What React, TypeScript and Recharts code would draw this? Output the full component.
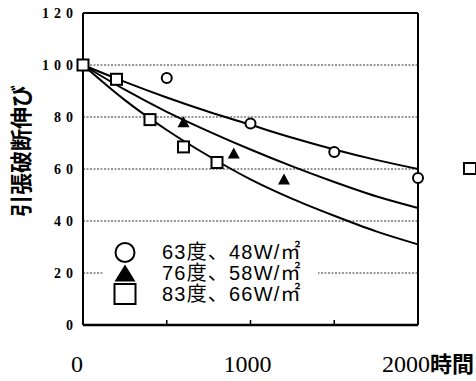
import {
  ComposedChart,
  Line,
  Scatter,
  XAxis,
  YAxis,
  CartesianGrid,
  ReferenceLine,
} from 'recharts';

// fitted curves, every 250 h
const curveHours = [0, 250, 500, 750, 1000, 1250, 1500, 1750, 2000];
const fit63 = [100, 93.5, 87.5, 82, 77, 72, 67.5, 63.5, 60];
const fit76 = [100, 90.5, 82, 74.5, 67.5, 61, 55, 49.5, 45];
const fit83 = [100, 86.5, 75, 65, 56, 48.5, 42, 36, 31];

// measured points
const hours63 = [0, 500, 1000, 1500, 2000];
const elong63 = [100, 95, 77.5, 66.5, 56.5];
const hours76 = [0, 600, 900, 1200];
const elong76 = [100, 78, 66, 56];
const hours83 = [0, 200, 400, 600, 800];
const elong83 = [100, 94.5, 79, 68.5, 62.5];

const xTicks = [0, 500, 1000, 1500, 2000];
const xTickLabels = ['0', '', '1000', '', '2000'];
const yTicks = [0, 20, 40, 60, 80, 100, 120];

const yTitle = '引張破断伸び';
const xUnit = '時間';
const legendLabels = ['63度、48W/㎡', '76度、58W/㎡', '83度、66W/㎡'];

const toRows = (xs: number[], ys: number[]) => xs.map((t, i) => ({ t, v: ys[i] }));

const W = 476;
const H = 381;
const SERIF = 'Liberation Serif, DejaVu Serif, serif';
const CJK = 'Noto Sans CJK JP, sans-serif';

const CircleDot = (p: any) => (
  <circle cx={p.cx} cy={p.cy} r={5} fill="#fff" stroke="#000" strokeWidth={2} />
);
const TriangleDot = (p: any) => (
  <polygon points={`${p.cx},${p.cy - 6} ${p.cx - 6},${p.cy + 5} ${p.cx + 6},${p.cy + 5}`} fill="#000" />
);
const SquareDot = (p: any) => (
  <rect x={p.cx - 5.5} y={p.cy - 5.5} width={11} height={11} fill="#fff" stroke="#000" strokeWidth={2} />
);

function YTick({ x, y, payload }: any) {
  return (
    <text
      x={x - 5}
      y={y}
      dy={5}
      textAnchor="end"
      style={{ fontFamily: SERIF, fontWeight: 'bold', fontSize: 14, letterSpacing: 5 }}
      fill="#000"
    >
      {payload.value}
    </text>
  );
}

function XTick({ x, y, payload }: any) {
  const v = payload.value;
  const label = xTickLabels[xTicks.indexOf(v)];
  const font = { fontFamily: SERIF, fontSize: 24 };
  return (
    <g>
      {v > 0 && v < 2000 && <line x1={x} x2={x} y1={y} y2={y - 5} stroke="#000" strokeWidth={1.5} />}
      {v === 2000 ? (
        <text x={x - 36} y={y + 47} textAnchor="start" fill="#000" style={font}>
          {label}
          <tspan style={{ fontFamily: CJK, fontSize: 22, fontWeight: 'bold' }}>{xUnit}</tspan>
        </text>
      ) : label ? (
        <text x={x + (v === 0 ? -6 : -3)} y={y + 47} textAnchor="middle" fill="#000" style={font}>
          {label}
        </text>
      ) : null}
    </g>
  );
}

function YTitle({ viewBox }: any) {
  const cx = viewBox.x + 19;
  const cy = viewBox.y + viewBox.height / 2 - 18;
  return (
    <text
      x={cx}
      y={cy}
      transform={`rotate(-90 ${cx} ${cy})`}
      textAnchor="middle"
      dominantBaseline="central"
      style={{ fontFamily: CJK, fontWeight: 'bold', fontSize: 22 }}
      fill="#000"
    >
      {yTitle}
    </text>
  );
}

function LegendIcon({ kind }: { kind: number }) {
  return (
    <svg width={42} height={21} style={{ position: 'absolute', left: 0, top: 0, overflow: 'visible' }}>
      {kind === 0 && <circle cx={21} cy={10.5} r={9.5} fill="#fff" stroke="#000" strokeWidth={2} />}
      {kind === 1 && <polygon points="21,1.5 10.5,18.5 31.5,18.5" fill="#000" />}
      {kind === 2 && <rect x={10.5} y={0} width={21} height={20} fill="#fff" stroke="#000" strokeWidth={2} />}
    </svg>
  );
}

export default function App() {
  return (
    <div style={{ position: 'absolute', left: 0, top: 0, width: W, height: H, background: '#fff', overflow: 'hidden' }}>
      <ComposedChart width={W} height={H} margin={{ top: 13, right: 58, left: 0, bottom: 0 }}>
        <CartesianGrid vertical={false} strokeDasharray="2 1.5" stroke="#333" strokeWidth={1} />
        <XAxis
          type="number"
          dataKey="t"
          domain={[0, 2000]}
          ticks={xTicks}
          interval={0}
          height={56}
          tickSize={0}
          tickMargin={0}
          tickLine={false}
          axisLine={{ stroke: '#000', strokeWidth: 2.5 }}
          tick={<XTick />}
        />
        <YAxis
          type="number"
          domain={[0, 120]}
          ticks={yTicks}
          interval={0}
          width={83}
          tickSize={0}
          tickMargin={0}
          tickLine={false}
          axisLine={{ stroke: '#000', strokeWidth: 2 }}
          tick={<YTick />}
          label={<YTitle />}
        />
        <ReferenceLine y={120} stroke="#000" strokeWidth={2} />
        <ReferenceLine x={2000} stroke="#000" strokeWidth={2} />
        <Line data={toRows(curveHours, fit63)} dataKey="v" type="monotone" stroke="#000" strokeWidth={2} dot={false} isAnimationActive={false} />
        <Line data={toRows(curveHours, fit76)} dataKey="v" type="monotone" stroke="#000" strokeWidth={2} dot={false} isAnimationActive={false} />
        <Line data={toRows(curveHours, fit83)} dataKey="v" type="monotone" stroke="#000" strokeWidth={2} dot={false} isAnimationActive={false} />
        <Scatter data={toRows(hours63, elong63)} dataKey="v" shape={CircleDot} isAnimationActive={false} />
        <Scatter data={toRows(hours76, elong76)} dataKey="v" shape={TriangleDot} isAnimationActive={false} />
        <Scatter data={toRows(hours83, elong83)} dataKey="v" shape={SquareDot} isAnimationActive={false} />
      </ComposedChart>
      <div style={{ position: 'absolute', left: 104, top: 238, width: 214, height: 72, background: '#fff' }}>
        {legendLabels.map((label, i) => (
          <div key={label} style={{ position: 'absolute', left: 0, top: 4 + i * 21, width: 214, height: 21 }}>
            <LegendIcon kind={i} />
            <span
              style={{
                position: 'absolute',
                left: 58,
                top: 0,
                lineHeight: '21px',
                fontSize: 20,
                letterSpacing: 1.2,
                whiteSpace: 'nowrap',
                fontFamily: 'Liberation Sans, Noto Sans CJK JP, sans-serif',
                color: '#000',
              }}
            >
              {label}
            </span>
          </div>
        ))}
      </div>
      <div style={{ position: 'absolute', left: 463, top: 162, width: 10, height: 9, border: '2px solid #000' }} />
    </div>
  );
}
